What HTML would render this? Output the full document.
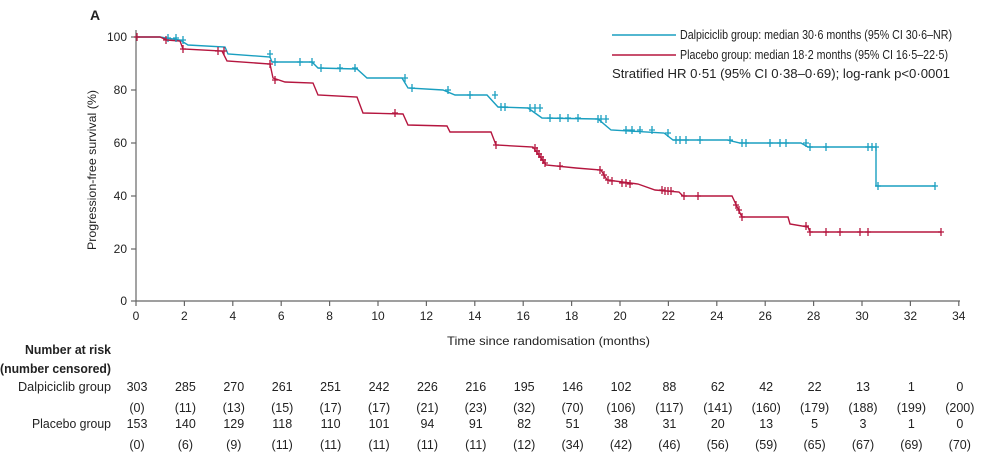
<!DOCTYPE html>
<html><head><style>body{margin:0;background:#fff}svg{display:block}text{font-family:"Liberation Sans",sans-serif;fill:#222}</style></head><body>
<svg width="982" height="457" viewBox="0 0 982 457" xmlns="http://www.w3.org/2000/svg">
<text x="90" y="20" font-size="14" font-weight="bold">A</text>
<g stroke="#666" stroke-width="1.2" fill="none">
<line x1="136" y1="30" x2="136" y2="301"/><line x1="136" y1="301" x2="960" y2="301"/>
<line x1="131" y1="37" x2="136" y2="37"/><line x1="131" y1="90" x2="136" y2="90"/><line x1="131" y1="143" x2="136" y2="143"/><line x1="131" y1="196" x2="136" y2="196"/><line x1="131" y1="249" x2="136" y2="249"/><line x1="131" y1="301" x2="136" y2="301"/>
<path d="M136 301v5M184.4 301v5M232.8 301v5M281.2 301v5M329.6 301v5M378 301v5M426.4 301v5M474.8 301v5M523.2 301v5M571.6 301v5M620 301v5M668.4 301v5M716.8 301v5M765.2 301v5M813.6 301v5M862 301v5M910.4 301v5M958.8 301v5"/>
</g>
<g font-size="12" text-anchor="end">
<text x="127" y="41">100</text><text x="127" y="94">80</text><text x="127" y="147">60</text><text x="127" y="200">40</text><text x="127" y="253">20</text><text x="127" y="305">0</text>
</g>
<g font-size="12" text-anchor="middle">
<text x="136" y="320">0</text><text x="184.4" y="320">2</text><text x="232.8" y="320">4</text><text x="281.2" y="320">6</text><text x="329.6" y="320">8</text><text x="378" y="320">10</text><text x="426.4" y="320">12</text><text x="474.8" y="320">14</text><text x="523.2" y="320">16</text><text x="571.6" y="320">18</text><text x="620" y="320">20</text><text x="668.4" y="320">22</text><text x="716.8" y="320">24</text><text x="765.2" y="320">26</text><text x="813.6" y="320">28</text><text x="862" y="320">30</text><text x="910.4" y="320">32</text><text x="958.8" y="320">34</text>
</g>
<text transform="translate(96,170) rotate(-90)" font-size="12" text-anchor="middle" textLength="160" lengthAdjust="spacingAndGlyphs">Progression-free survival (%)</text>
<text x="447" y="345" font-size="12" textLength="203" lengthAdjust="spacingAndGlyphs">Time since randomisation (months)</text>
<polyline fill="none" stroke="#1a9fc0" stroke-width="1.4" points="136,37 160,37 166,38 180,40 188,45 225,47 228,54 270,57 272,62 312,62 318,68 357,69 367,78 402,78 408,88 443,90 455,95 487,95 498,107 528,108 542,118 598,119 611,130 664,133 673,140 727,140 740,143 801,143 808,147 876,147 876,186 935,186"/>
<polyline fill="none" stroke="#b5163f" stroke-width="1.4" points="136,37 160,37 167,40 180,41 183,49 222,51 227,61 270,64 273,78 285,82 313,83 318,95 357,97 363,113 403,114 408,125 447,126 450,132 491,132 496,145 533,147 546,165 576,168 601,170 607,180 638,184 655,190 679,192 683,196 732,196 740,213 742,217 788,217 790,224 808,227 810,232 941,232"/>
<path fill="none" stroke="#1a9fc0" stroke-width="1.3" d="M168 34v8M165 38h6M176 34v8M173 38h6M183 36v8M180 40h6M270 50v8M267 54h6M275 58v8M272 62h6M300 58v8M297 62h6M312 58v8M309 62h6M321 64v8M318 68h6M340 64v8M337 68h6M355 64v8M352 68h6M405 74v8M402 78h6M412 84v8M409 88h6M448 86v8M445 90h6M470 91v8M467 95h6M495 91v8M492 95h6M501 103v8M498 107h6M505 103v8M502 107h6M530 104v8M527 108h6M535 104v8M532 108h6M540 104v8M537 108h6M550 114v8M547 118h6M560 114v8M557 118h6M568 114v8M565 118h6M578 114v8M575 118h6M598 115v8M595 119h6M601 115v8M598 119h6M606 115v8M603 119h6M626 126v8M623 130h6M632 126v8M629 130h6M640 126v8M637 130h6M652 126v8M649 130h6M668 129v8M665 133h6M676 136v8M673 140h6M680 136v8M677 140h6M686 136v8M683 140h6M700 136v8M697 140h6M730 136v8M727 140h6M742 139v8M739 143h6M746 139v8M743 143h6M770 139v8M767 143h6M780 139v8M777 143h6M786 139v8M783 143h6M806 139v8M803 143h6M810 143v8M807 147h6M826 143v8M823 147h6M868 143v8M865 147h6M872 143v8M869 147h6M876 143v8M873 147h6M878 182v8M875 186h6M935 182v8M932 186h6"/>
<path fill="none" stroke="#b5163f" stroke-width="1.3" d="M137 33v8M134 37h6M166 36v8M163 40h6M183 45v8M180 49h6M218 47v8M215 51h6M224 47v8M221 51h6M270 60v8M267 64h6M275 76v8M272 80h6M395 109v8M392 113h6M496 141v8M493 145h6M535 144v8M532 148h6M537 147v8M534 151h6M539 150v8M536 154h6M541 153v8M538 157h6M543 156v8M540 160h6M545 159v8M542 163h6M560 162v8M557 166h6M600 166v8M597 170h6M604 171v8M601 175h6M608 176v8M605 180h6M612 177v8M609 181h6M622 179v8M619 183h6M626 179v8M623 183h6M630 180v8M627 184h6M662 186v8M659 190h6M665 187v8M662 191h6M668 187v8M665 191h6M671 187v8M668 191h6M684 192v8M681 196h6M698 192v8M695 196h6M736 201v8M733 205h6M739 206v8M736 210h6M742 213v8M739 217h6M806 222v8M803 226h6M810 228v8M807 232h6M826 228v8M823 232h6M840 228v8M837 232h6M860 228v8M857 232h6M868 228v8M865 232h6M941 228v8M938 232h6"/>
<line x1="612" y1="35" x2="676" y2="35" stroke="#1a9fc0" stroke-width="1.5"/>
<line x1="612" y1="55" x2="676" y2="55" stroke="#b5163f" stroke-width="1.5"/>
<g font-size="12.5">
<text x="680" y="39" textLength="272" lengthAdjust="spacingAndGlyphs">Dalpiciclib group: median 30·6 months (95% CI 30·6–NR)</text>
<text x="680" y="59" textLength="268" lengthAdjust="spacingAndGlyphs">Placebo group: median 18·2 months (95% CI 16·5–22·5)</text>
<text x="612" y="78" textLength="338" lengthAdjust="spacingAndGlyphs">Stratified HR 0·51 (95% CI 0·38–0·69); log-rank p&lt;0·0001</text>
</g>
<g font-size="12.5">
<text x="25" y="354" font-weight="bold" textLength="86" lengthAdjust="spacingAndGlyphs">Number at risk</text>
<text x="0" y="373" font-weight="bold" textLength="111" lengthAdjust="spacingAndGlyphs">(number censored)</text>
<text x="18" y="391" textLength="93" lengthAdjust="spacingAndGlyphs">Dalpiciclib group</text>
<text x="32" y="428" textLength="79" lengthAdjust="spacingAndGlyphs">Placebo group</text>
</g>
<g font-size="12.5" text-anchor="middle">
<text y="391"><tspan x="137">303</tspan><tspan x="185.4">285</tspan><tspan x="233.8">270</tspan><tspan x="282.2">261</tspan><tspan x="330.6">251</tspan><tspan x="379">242</tspan><tspan x="427.4">226</tspan><tspan x="475.8">216</tspan><tspan x="524.2">195</tspan><tspan x="572.6">146</tspan><tspan x="621">102</tspan><tspan x="669.4">88</tspan><tspan x="717.8">62</tspan><tspan x="766.2">42</tspan><tspan x="814.6">22</tspan><tspan x="863">13</tspan><tspan x="911.4">1</tspan><tspan x="959.8">0</tspan></text>
<text y="412"><tspan x="137">(0)</tspan><tspan x="185.4">(11)</tspan><tspan x="233.8">(13)</tspan><tspan x="282.2">(15)</tspan><tspan x="330.6">(17)</tspan><tspan x="379">(17)</tspan><tspan x="427.4">(21)</tspan><tspan x="475.8">(23)</tspan><tspan x="524.2">(32)</tspan><tspan x="572.6">(70)</tspan><tspan x="621">(106)</tspan><tspan x="669.4">(117)</tspan><tspan x="717.8">(141)</tspan><tspan x="766.2">(160)</tspan><tspan x="814.6">(179)</tspan><tspan x="863">(188)</tspan><tspan x="911.4">(199)</tspan><tspan x="959.8">(200)</tspan></text>
<text y="428"><tspan x="137">153</tspan><tspan x="185.4">140</tspan><tspan x="233.8">129</tspan><tspan x="282.2">118</tspan><tspan x="330.6">110</tspan><tspan x="379">101</tspan><tspan x="427.4">94</tspan><tspan x="475.8">91</tspan><tspan x="524.2">82</tspan><tspan x="572.6">51</tspan><tspan x="621">38</tspan><tspan x="669.4">31</tspan><tspan x="717.8">20</tspan><tspan x="766.2">13</tspan><tspan x="814.6">5</tspan><tspan x="863">3</tspan><tspan x="911.4">1</tspan><tspan x="959.8">0</tspan></text>
<text y="449"><tspan x="137">(0)</tspan><tspan x="185.4">(6)</tspan><tspan x="233.8">(9)</tspan><tspan x="282.2">(11)</tspan><tspan x="330.6">(11)</tspan><tspan x="379">(11)</tspan><tspan x="427.4">(11)</tspan><tspan x="475.8">(11)</tspan><tspan x="524.2">(12)</tspan><tspan x="572.6">(34)</tspan><tspan x="621">(42)</tspan><tspan x="669.4">(46)</tspan><tspan x="717.8">(56)</tspan><tspan x="766.2">(59)</tspan><tspan x="814.6">(65)</tspan><tspan x="863">(67)</tspan><tspan x="911.4">(69)</tspan><tspan x="959.8">(70)</tspan></text>
</g>
</svg></body></html>
